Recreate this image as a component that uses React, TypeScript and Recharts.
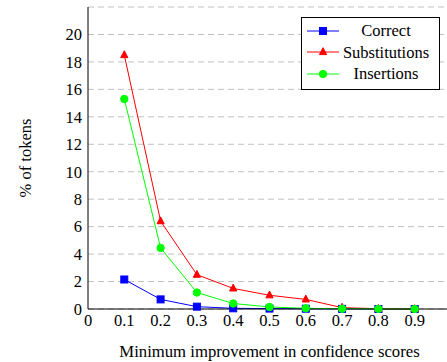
import { LineChart, Line, XAxis, YAxis, CartesianGrid, Legend } from "recharts";

const thresholds = [0.1, 0.2, 0.3, 0.4, 0.5, 0.6, 0.7, 0.8, 0.9];
const correct = [2.15, 0.7, 0.17, 0.05, 0.03, 0.02, 0.01, 0, 0];
const substitutions = [18.5, 6.4, 2.5, 1.5, 1.0, 0.7, 0.1, 0.02, 0];
const insertions = [15.3, 4.45, 1.2, 0.4, 0.15, 0.05, 0.02, 0.01, 0];

const xTicks = [0, 0.1, 0.2, 0.3, 0.4, 0.5, 0.6, 0.7, 0.8, 0.9];
const yTicks = [0, 2, 4, 6, 8, 10, 12, 14, 16, 18, 20];

const data = thresholds.map((t, i) => ({
  t,
  correct: correct[i],
  substitutions: substitutions[i],
  insertions: insertions[i],
}));

const FONT = '"Liberation Serif"';
const FS = 16.5;
const BLUE = "#0000ff";
const RED = "#ff0000";
const GREEN = "#00ff00";

const Square = (props: any) => {
  const { cx, cy } = props;
  if (cx == null || cy == null) return <g />;
  return <rect x={cx - 3.5} y={cy - 3.5} width={7} height={7} fill={BLUE} stroke={BLUE} />;
};

const Triangle = (props: any) => {
  const { cx, cy } = props;
  if (cx == null || cy == null) return <g />;
  return (
    <polygon
      points={`${cx},${cy - 4.3} ${cx - 3.6},${cy + 2.6} ${cx + 3.6},${cy + 2.6}`}
      fill={RED}
      stroke={RED}
    />
  );
};

const Circle = (props: any) => {
  const { cx, cy } = props;
  if (cx == null || cy == null) return <g />;
  return <circle cx={cx} cy={cy} r={3.7} fill={GREEN} stroke={GREEN} />;
};

const legendItems = [
  { name: "Correct", color: BLUE, marker: "square" },
  { name: "Substitutions", color: RED, marker: "triangle" },
  { name: "Insertions", color: GREEN, marker: "circle" },
];

const LegendBox = () => (
  <div
    style={{
      border: "1px solid #000",
      background: "#fff",
      width: 137,
      height: 67,
      boxSizing: "content-box",
      fontFamily: FONT,
      fontSize: FS,
      color: "#000",
      paddingTop: 2,
      paddingBottom: 2,
    }}
  >
    {legendItems.map((it) => (
      <div key={it.name} style={{ display: "flex", alignItems: "center", height: 21.5 }}>
        <svg width={40} height={14} style={{ flex: "none" }}>
          <line x1={5} y1={7} x2={37} y2={7} stroke={it.color} strokeWidth={1} />
          {it.marker === "square" && (
            <rect x={17.5} y={3.5} width={7} height={7} fill={it.color} stroke={it.color} />
          )}
          {it.marker === "triangle" && (
            <polygon points="21,2.7 17.4,9.6 24.6,9.6" fill={it.color} stroke={it.color} />
          )}
          {it.marker === "circle" && <circle cx={21} cy={7} r={3.7} fill={it.color} stroke={it.color} />}
        </svg>
        <span style={{ flex: 1, textAlign: "center", lineHeight: "17px", paddingRight: 9 }}>{it.name}</span>
      </div>
    ))}
  </div>
);

const YTitle = (props: any) => {
  const vb = props.viewBox || { x: 0, y: 7, width: 88, height: 302 };
  const cy = vb.y + vb.height / 2;
  return (
    <text
      x={31}
      y={cy}
      transform={`rotate(-90, 31, ${cy})`}
      textAnchor="middle"
      style={{ fontFamily: FONT, fontSize: FS }}
      fill="#000"
    >
      % of tokens
    </text>
  );
};

const tickStyle = { fontFamily: FONT, fontSize: FS, fill: "#000" };

export default function App() {
  return (
    <div
      style={{
        position: "absolute",
        left: 0,
        top: 0,
        width: 447,
        height: 362,
        overflow: "hidden",
        background: "#fff",
        fontFamily: FONT,
      }}
    >
      <LineChart
        width={460}
        height={362}
        data={data}
        margin={{ top: 7, right: 9, bottom: 0, left: 0 }}
      >
        <CartesianGrid vertical={false} stroke="#c0c0c0" strokeDasharray="6 4" />
        <XAxis
          dataKey="t"
          type="number"
          domain={[0, 1]}
          ticks={xTicks}
          tickFormatter={(v: number) => (v === 0 ? "0" : v.toFixed(1))}
          tick={tickStyle}
          tickLine={false}
          tickSize={0}
          tickMargin={5.5}
          axisLine={{ stroke: "#000" }}
          height={53}
          label={{
            value: "Minimum improvement in confidence scores",
            position: "insideBottom",
            offset: 5.5,
            style: { fontFamily: FONT, fontSize: 16.7, fill: "#000" },
          }}
        />
        <XAxis
          xAxisId="bottomTicks"
          dataKey="t"
          type="number"
          domain={[0, 1]}
          ticks={xTicks}
          orientation="bottom"
          mirror
          height={0}
          tickSize={7}
          tickFormatter={() => ""}
          tickLine={{ stroke: "#999" }}
          axisLine={false}
        />
        <XAxis
          xAxisId="top"
          dataKey="t"
          type="number"
          domain={[0, 1]}
          ticks={xTicks}
          orientation="top"
          mirror
          height={0}
          tickSize={7}
          tickFormatter={() => ""}
          tickLine={{ stroke: "#555" }}
          axisLine={{ stroke: "#000" }}
        />
        <YAxis
          type="number"
          domain={[0, 22]}
          ticks={yTicks}
          tick={tickStyle}
          tickLine={false}
          tickSize={0}
          tickMargin={6}
          width={88}
          axisLine={{ stroke: "#000" }}
          label={<YTitle />}
        />
        <YAxis
          yAxisId="leftTicks"
          type="number"
          domain={[0, 22]}
          ticks={yTicks}
          mirror
          width={0}
          tickSize={4}
          tickFormatter={() => ""}
          tickLine={{ stroke: "#777" }}
          axisLine={false}
        />
        <YAxis
          yAxisId="rightTicks"
          type="number"
          domain={[0, 22]}
          ticks={yTicks}
          orientation="right"
          mirror
          width={0}
          tickSize={7}
          tickFormatter={() => ""}
          tickLine={{ stroke: "#777" }}
          axisLine={{ stroke: "#000" }}
        />
        <Legend
          layout="horizontal"
          verticalAlign="middle"
          align="center"
          content={() => <LegendBox />}
          wrapperStyle={{ left: 301, top: 17, width: 139, height: 71, right: "auto", bottom: "auto" }}
        />
        <Line
          dataKey="correct"
          name="Correct"
          stroke={BLUE}
          strokeWidth={1}
          dot={<Square />}
          activeDot={false}
          isAnimationActive={false}
        />
        <Line
          dataKey="substitutions"
          name="Substitutions"
          stroke={RED}
          strokeWidth={1}
          dot={<Triangle />}
          activeDot={false}
          isAnimationActive={false}
        />
        <Line
          dataKey="insertions"
          name="Insertions"
          stroke={GREEN}
          strokeWidth={1}
          dot={<Circle />}
          activeDot={false}
          isAnimationActive={false}
        />
      </LineChart>
    </div>
  );
}
